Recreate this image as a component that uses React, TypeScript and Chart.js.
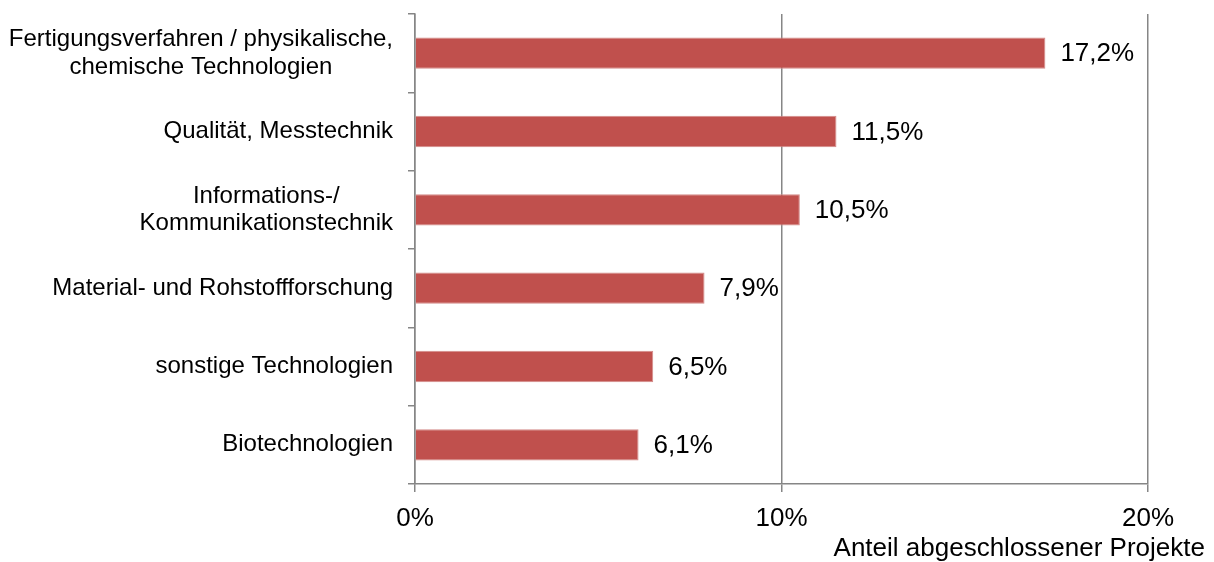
import React, { useEffect, useRef } from "react";
import { Chart, registerables } from "chart.js";

Chart.register(...registerables);

const categoryLines: string[][] = [
  ["Fertigungsverfahren / physikalische,", "chemische Technologien"],
  ["Qualität, Messtechnik"],
  ["Informations-/", "Kommunikationstechnik"],
  ["Material- und Rohstoffforschung"],
  ["sonstige Technologien"],
  ["Biotechnologien"],
];
const shares: number[] = [17.2, 11.5, 10.5, 7.9, 6.5, 6.1];
const axisMax = 20;
const axisStep = 10;
const axisTitle = "Anteil abgeschlossener Projekte";

const FONT = '"Liberation Sans", Arial, sans-serif';
const BAR = "#C0504D";
const GRID = "#868686";

const fmt = (v: number) => v.toFixed(1).replace(".", ",") + "%";

const textPlugin = {
  id: "customText",
  afterDraw(chart: any) {
    const ctx = chart.ctx as CanvasRenderingContext2D;
    const yScale = chart.scales.y;
    const area = chart.chartArea;
    ctx.save();
    ctx.fillStyle = "#000";
    // category labels
    ctx.font = `24px ${FONT}`;
    ctx.textBaseline = "middle";
    ctx.textAlign = "center";
    const lh = 27.6;
    categoryLines.forEach((lines, i) => {
      const y = yScale.getPixelForValue(i);
      const maxW = Math.max(...lines.map((l) => ctx.measureText(l).width));
      const cx = area.left - 22 - maxW / 2;
      lines.forEach((l, j) => {
        ctx.fillText(l, cx, y + (j - (lines.length - 1) / 2) * lh);
      });
    });
    // value labels
    ctx.font = `26px ${FONT}`;
    ctx.textAlign = "left";
    const meta = chart.getDatasetMeta(0);
    meta.data.forEach((bar: any, i: number) => {
      ctx.fillText(fmt(shares[i]), bar.x + 15, bar.y + 1);
    });
    // axis title
    ctx.textAlign = "right";
    ctx.fillText(axisTitle, chart.width - 9, 549);
    ctx.restore();
  },
};

export default function App() {
  const ref = useRef<HTMLCanvasElement | null>(null);
  useEffect(() => {
    document.body.style.margin = "0";
    if (!ref.current) return;
    const chart = new Chart(ref.current, {
      type: "bar",
      data: {
        labels: categoryLines.map((l) => l.join(" ")),
        datasets: [
          {
            data: shares,
            backgroundColor: BAR,
            borderColor: "#D38B89",
            borderWidth: 1,
            barPercentage: 0.4,
            categoryPercentage: 1,
          },
        ],
      },
      options: {
        indexAxis: "y",
        responsive: false,
        animation: false,
        layout: { padding: { top: 14, right: 66, left: 0, bottom: 0 } },
        plugins: { legend: { display: false }, tooltip: { enabled: false } },
        scales: {
          x: {
            min: 0,
            max: axisMax,
            ticks: {
              stepSize: axisStep,
              callback: (v: any) => v + "%",
              color: "#000",
              font: { family: FONT, size: 26 },
              padding: 11,
              maxRotation: 0,
            },
            grid: { color: GRID, lineWidth: 1.5, tickLength: 8, drawTicks: true },
            border: { display: true, color: GRID, width: 1.5 },
            afterFit: (s: any) => {
              s.height = 78;
            },
          },
          y: {
            ticks: { display: false },
            grid: { offset: true, drawOnChartArea: false, color: GRID, lineWidth: 1.5, tickLength: 7, drawTicks: true },
            border: { display: true, color: GRID, width: 1.5 },
            afterFit: (s: any) => {
              s.width = 415;
            },
          },
        },
      },
      plugins: [textPlugin],
    });
    return () => chart.destroy();
  }, []);
  return (
    <div style={{ position: "absolute", left: 0, top: 0, width: 1214, height: 562, background: "#fff" }}>
      <canvas ref={ref} width={1214} height={562} />
    </div>
  );
}
